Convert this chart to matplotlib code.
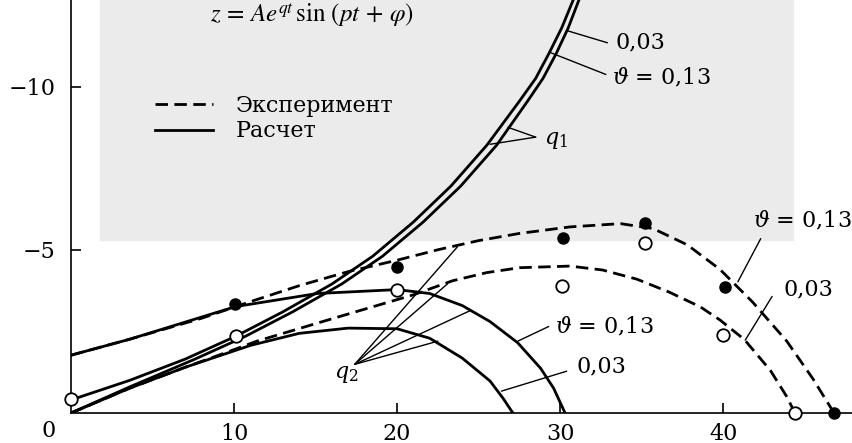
import matplotlib.pyplot as plt
from matplotlib.patches import Rectangle

# calculated q1 curves (double line)
q1_a_x = [0, 3.6, 7, 10.1, 13, 16, 18.5, 21, 23.3, 25.5, 27.5, 28.5, 29.3, 30.1, 30.8]
q1_a_y = [-0.4, -1.0, -1.65, -2.35, -3.1, -3.95, -4.8, -5.85, -6.95, -8.2, -9.55, -10.25, -11.0,
          -11.8, -12.65]
q1_b_x = [0, 3.6, 7.6, 10.7, 13.6, 16.6, 19.1, 21.6, 23.9, 26.1, 28.0, 28.95, 29.75, 30.5, 31.15]
q1_b_y = [0, -0.8, -1.65, -2.35, -3.1, -3.95, -4.8, -5.85, -6.95, -8.2, -9.55, -10.25, -11.0,
          -11.8, -12.65]

# calculated q2 curves
calc_13_x = [0, 3.6, 10.1, 15.1, 20, 22, 24, 25.7, 27.4, 28.8, 29.6, 30.3]
calc_13_y = [-1.77, -2.26, -3.26, -3.66, -3.78, -3.66, -3.29, -2.8, -2.15, -1.37, -0.76, 0]
calc_03_x = [0, 3.6, 7, 11, 14, 17, 20, 22, 24, 25.7, 26.5, 27.1]
calc_03_y = [0, -0.76, -1.4, -2.07, -2.44, -2.6, -2.58, -2.29, -1.68, -0.98, -0.45, 0]

# experiment (dashed)
exp_13_x = [0, 3.6, 8, 11, 14, 17, 20, 22.5, 25, 27.5, 30.6, 33.7, 35.7, 37.8, 39.8, 41.8, 43.9, 45.5, 46.8]
exp_13_y = [-1.77, -2.26, -2.9, -3.41, -3.9, -4.33, -4.68, -5.0, -5.28, -5.5, -5.7, -5.8, -5.65,
            -5.15, -4.4, -3.4, -2.2, -1.05, 0]
exp_03_x = [0, 3.6, 7, 9.5, 11.4, 16.1, 21, 23.4, 25.5, 27.5, 30.6, 32.6, 34.7, 36.7, 38.6, 39.8,
            41.3, 42.9, 43.9, 44.4]
exp_03_y = [0, -0.76, -1.4, -1.85, -2.2, -2.9, -3.62, -4.05, -4.3, -4.45, -4.5, -4.38, -4.1, -3.7,
            -3.25, -2.85, -2.25, -1.3, -0.5, 0]

# measured points
filled_x = [10.06, 20, 30.2, 35.2, 40.1, 46.8]
filled_y = [-3.35, -4.48, -5.37, -5.83, -3.87, 0]
open_x = [0, 10.1, 20, 30.1, 35.2, 40, 44.4]
open_y = [-0.43, -2.35, -3.78, -3.9, -5.2, -2.38, 0]

x_ticks = [10, 20, 30, 40]
y_ticks = [-10, -5]
y_tick_labels = ['\u221210', '\u22125']

plt.rcParams['font.family'] = 'DejaVu Serif'
plt.rcParams['mathtext.fontset'] = 'dejavuserif'

fig = plt.figure(figsize=(8.52, 4.43), dpi=100)
# scan background
fig.patches.append(Rectangle((100 / 852, 1 - 240 / 443), 693 / 852, 240 / 443,
                             transform=fig.transFigure, color='#ebebeb', zorder=-5))
ax = fig.add_axes([71 / 852, 30 / 443, 781 / 852, 413 / 443])
ax.set_zorder(2)
ax.set_facecolor('none')

lw = 2.0
dash = (4.5, 2.3)
ax.plot(q1_a_x, q1_a_y, 'k-', lw=lw)
ax.plot(q1_b_x, q1_b_y, 'k-', lw=lw)
h_calc, = ax.plot(calc_13_x, calc_13_y, 'k-', lw=lw, label='Расчет')
ax.plot(calc_03_x, calc_03_y, 'k-', lw=lw)
h_exp, = ax.plot(exp_13_x, exp_13_y, 'k--', lw=lw, dashes=dash, label='Эксперимент')
ax.plot(exp_03_x, exp_03_y, 'k--', lw=lw, dashes=dash)

ax.plot(filled_x, filled_y, 'o', color='k', ms=8, clip_on=False, zorder=5)
ax.plot(open_x, open_y, 'o', mfc='white', mec='k', mew=1.3, ms=9, clip_on=False, zorder=5)

ax.set_xlim(0, 47.9)
ax.set_ylim(0, -12.65)
ax.spines['top'].set_visible(False)
ax.spines['right'].set_visible(False)
ax.spines['left'].set_linewidth(1.2)
ax.spines['bottom'].set_linewidth(1.2)
ax.set_xticks(x_ticks)
ax.set_yticks(y_ticks)
ax.set_yticklabels(y_tick_labels)
ax.tick_params(direction='in', length=7, width=1.2, labelsize=16)
ax.tick_params(axis='x', pad=7)
ax.tick_params(axis='y', pad=11)
ax.text(-1.35, 0.55, '0', fontsize=16, ha='center', va='center')

leg = ax.legend([h_exp, h_calc], ['Эксперимент', 'Расчет'], loc='upper left',
                bbox_to_anchor=(155 / 852, 1 - 95 / 443), bbox_transform=fig.transFigure,
                frameon=False, fontsize=16, handlelength=2.6, handletextpad=1.05,
                labelspacing=0.15, borderpad=0, borderaxespad=0)

ax.text(8.5, -12.2, r'$z\,=\,Ae^{qt}\,\sin\,(pt\,+\,\varphi)$', fontsize=18,
        math_fontfamily='stix', va='center', ha='left')

fs = 16
leader = dict(arrowstyle='-', lw=1.0, color='k', shrinkA=0, shrinkB=0)


def label(txt, pos, starts, ends):
    ax.text(pos[0], pos[1], txt, fontsize=fs, ha='left', va='center')
    for s, e in zip(starts, ends):
        ax.annotate('', xy=e, xytext=s, arrowprops=leader)


label('0,03', (33.4, -11.34), [(32.9, -11.34)], [(30.5, -11.7)])
label(r'$\vartheta$ = 0,13', (33.2, -10.27), [(32.8, -10.37)], [(29.4, -11.04)])
label(r'$q_1$', (29.0, -8.35), [(28.5, -8.45)] * 2, [(26.8, -8.75), (25.7, -8.23)])
label(r'$\vartheta$ = 0,13', (41.8, -5.88), [(42.3, -5.34)], [(40.9, -4.02)])
label('0,03', (43.7, -3.78), [(43.0, -3.57)], [(41.35, -2.23)])
label(r'$\vartheta$ = 0,13', (29.7, -2.65), [(29.3, -2.65)], [(27.4, -2.2)])
label('0,03', (31.0, -1.43), [(30.4, -1.28)], [(26.4, -0.67)])
label(r'$q_2$', (16.1, -1.19), [(17.4, -1.49)] * 4,
      [(23.7, -5.09), (23.1, -3.96), (24.5, -3.14), (22.5, -2.2)])

fig.savefig('out.png', dpi=100)
